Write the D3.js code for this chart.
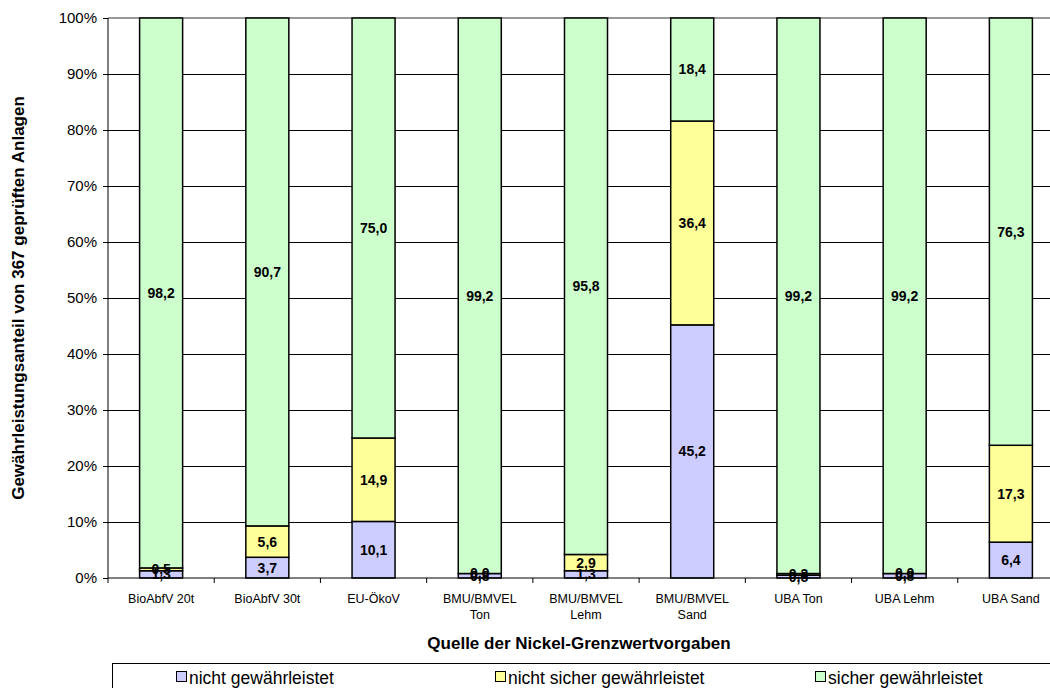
<!DOCTYPE html>
<html><head><meta charset="utf-8">
<script src="https://cdn.jsdelivr.net/npm/d3@7"></script>
<style>body{margin:0;background:#fff;}svg{display:block;font-family:"Liberation Sans",Arial,sans-serif;}</style>
</head><body>
<svg id="c" width="1050" height="688"></svg>
<script>
const categories = ["BioAbfV 20t","BioAbfV 30t","EU-ÖkoV","BMU/BMVEL\nTon","BMU/BMVEL\nLehm","BMU/BMVEL\nSand","UBA Ton","UBA Lehm","UBA Sand"];
const nichtGew = [1.3, 3.7, 10.1, 0.8, 1.3, 45.2, 0.5, 0.8, 6.4];
const nichtSicher = [0.5, 5.6, 14.9, 0.0, 2.9, 36.4, 0.3, 0.0, 17.3];
const sicher = [98.2, 90.7, 75.0, 99.2, 95.8, 18.4, 99.2, 99.2, 76.3];
const seriesNames = ["nicht gewährleistet","nicht sicher gewährleistet","sicher gewährleistet"];
const colors = ["#CCCCFF","#FFFF99","#CCFFCC"];
const yTicks = [0,10,20,30,40,50,60,70,80,90,100];

const svg = d3.select("#c");
const L = 108, R = 1064, T = 18, B = 578;
const x = d3.scaleBand().domain(categories).range([L, R]).paddingInner(0.595).paddingOuter(0.2975);
const y = d3.scaleLinear().domain([0,100]).range([B, T]);

const rows = categories.map((c,i)=>({cat:c, a:nichtGew[i], b:nichtSicher[i], c2:sicher[i]}));
const stack = d3.stack().keys(["a","b","c2"])(rows);

// gridlines
svg.append("g").selectAll("line").data(yTicks.slice(1,-1)).join("line")
  .attr("x1", L).attr("x2", 1050).attr("y1", d=>y(d)).attr("y2", d=>y(d))
  .attr("stroke", "#000").attr("stroke-width", 1).attr("shape-rendering","crispEdges");
// top border
svg.append("line").attr("x1", L).attr("x2", 1050).attr("y1", y(100)).attr("y2", y(100))
  .attr("stroke", "#999").attr("stroke-width", 2);

// bars
stack.forEach((s,si)=>{
  svg.append("g").selectAll("rect").data(s).join("rect")
    .attr("x", d=>x(d.data.cat)).attr("width", x.bandwidth())
    .attr("y", d=>y(d[1])).attr("height", d=>y(d[0])-y(d[1]))
    .attr("fill", colors[si]).attr("stroke", "#000").attr("stroke-width", 1.5);
});
// labels
stack.forEach((s,si)=>{
  svg.append("g").selectAll("text").data(s).join("text")
    .attr("x", d=>x(d.data.cat)+x.bandwidth()/2)
    .attr("y", d=>(y(d[0])+y(d[1]))/2)
    .attr("dy","0.35em").attr("text-anchor","middle")
    .attr("font-size", 14).attr("font-weight","bold")
    .text(d=>d3.format(".1f")(d[1]-d[0]).replace(".",","));
});

// y axis
const yAxis = d3.axisLeft(y).tickValues(yTicks).tickFormat(d=>d+"%").tickSize(5).tickPadding(6);
const ga = svg.append("g").attr("transform",`translate(${L},0)`).call(yAxis);
ga.selectAll("text").attr("font-size",15).attr("font-family","Liberation Sans, Arial, sans-serif").attr("fill","#000");
ga.selectAll("line").attr("stroke","#000");
ga.select(".domain").attr("stroke","#000").attr("d",`M0,${T}V${B}`);

// x axis
const xg = svg.append("g").attr("transform",`translate(0,${B})`);
xg.append("line").attr("x1",L).attr("x2",1050).attr("y1",0).attr("y2",0).attr("stroke","#000");
const bounds = categories.map((c,i)=> x(c) - x.step()*x.paddingInner()/2).concat([R]);
xg.selectAll("line.t").data(bounds).join("line").attr("class","t")
  .attr("x1",d=>d).attr("x2",d=>d).attr("y1",0).attr("y2",5).attr("stroke","#000");
const xt = xg.selectAll("text.l").data(categories).join("text").attr("class","l")
  .attr("x", d=>x(d)+x.bandwidth()/2).attr("y", 25)
  .attr("text-anchor","middle").attr("font-size",12.5);
xt.each(function(d){
  const parts = d.split("\n");
  parts.forEach((p,i)=> d3.select(this).append("tspan").attr("x", x(d)+x.bandwidth()/2).attr("dy", i===0?0:16).text(p));
});

// axis titles
svg.append("text").attr("x", 579).attr("y", 649).attr("text-anchor","middle")
  .attr("font-size",17).attr("font-weight","bold").text("Quelle der Nickel-Grenzwertvorgaben");
svg.append("text").attr("transform",`translate(24,${(T+B)/2}) rotate(-90)`).attr("text-anchor","middle")
  .attr("font-size",17).attr("font-weight","bold").text("Gewährleistungsanteil von 367 geprüften Anlagen");

// legend
svg.append("rect").attr("x",112.5).attr("y",663.5).attr("width",1000).attr("height",40)
  .attr("fill","none").attr("stroke","#000").attr("stroke-width",1);
const lx = [176, 495, 815];
seriesNames.forEach((n,i)=>{
  svg.append("rect").attr("x",lx[i]+0.5).attr("y",671.5).attr("width",10).attr("height",10)
    .attr("fill",colors[i]).attr("stroke","#000").attr("stroke-width",1);
  svg.append("text").attr("x",lx[i]+13).attr("y",684).attr("font-size",17.5).text(n);
});
</script>
</body></html>
